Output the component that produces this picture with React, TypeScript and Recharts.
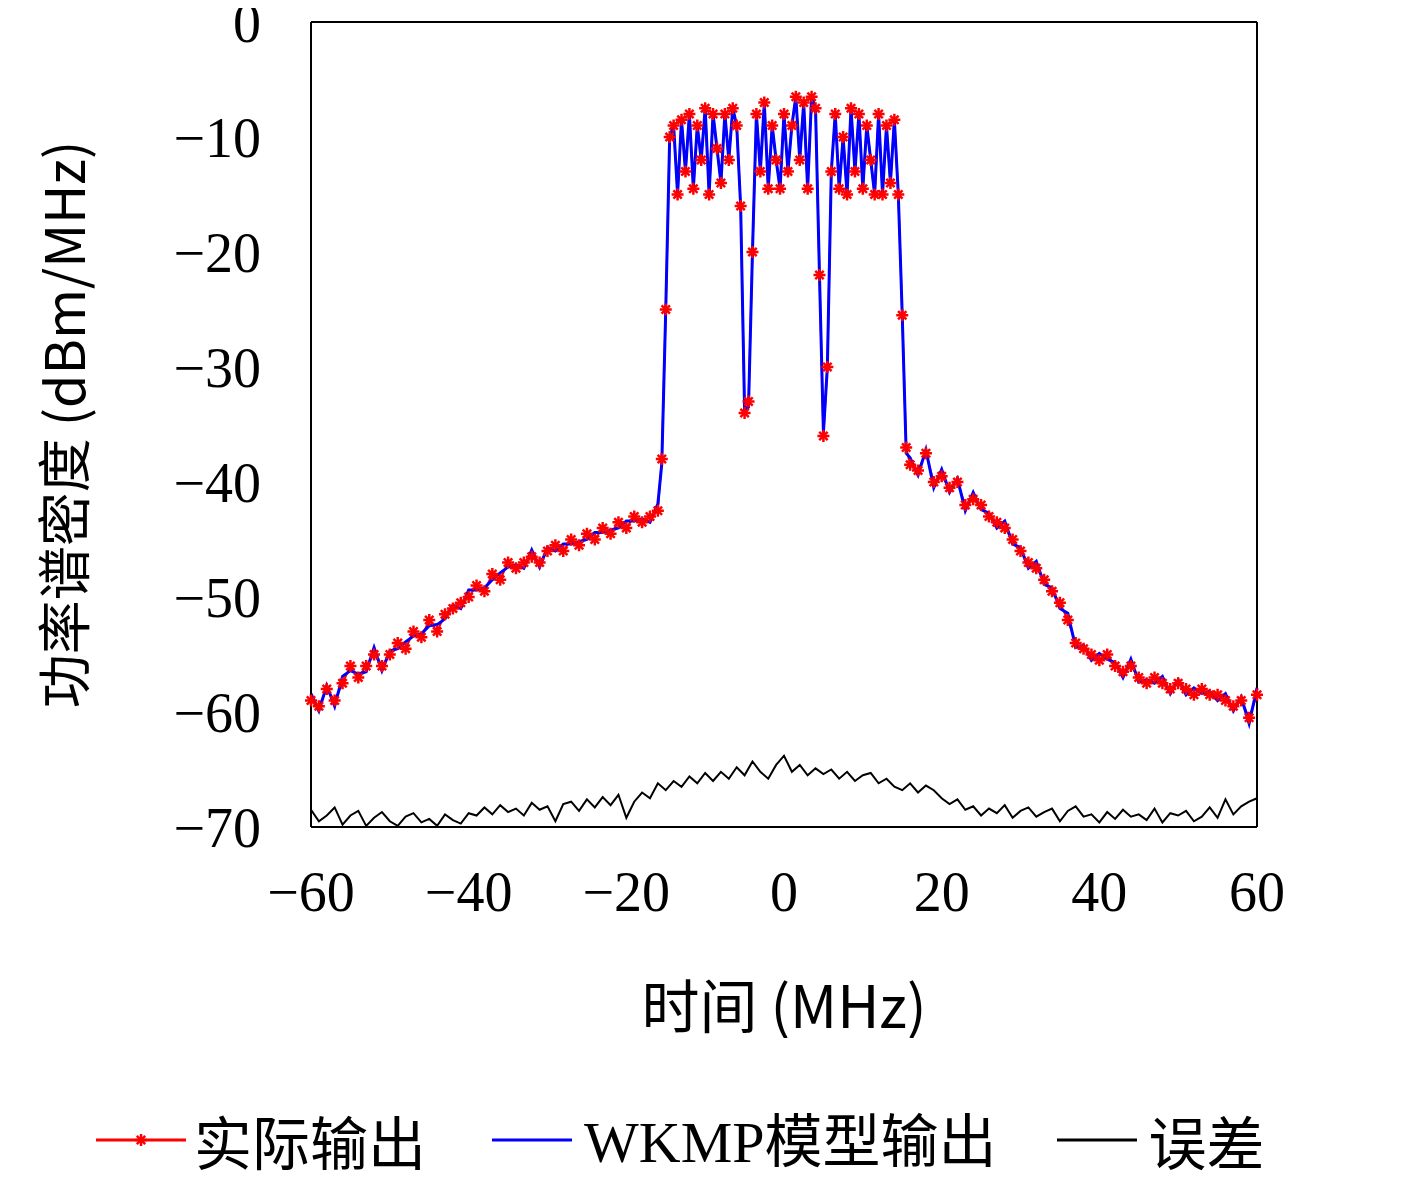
import React from "react";
import { ComposedChart, Line, XAxis, YAxis, Label, ReferenceLine } from "recharts";

const freqs = [
  -60, -59, -58, -57, -56, -55, -54, -53, -52, -51, -50, -49, -48, -47, -46, -45, -44, -43, -42, -41,
  -40, -39, -38, -37, -36, -35, -34, -33, -32, -31, -30, -29, -28, -27, -26, -25, -24, -23, -22, -21,
  -20, -19, -18, -17, -16, -15.5, -15, -14.5,
  -14, -13.5, -13, -12.5, -12, -11.5, -11, -10.5, -10, -9.5, -9, -8.5, -8, -7.5, -7, -6.5, -6, -5.5,
  -5, -4.5, -4, -3.5, -3, -2.5, -2, -1.5, -1, -0.5, 0, 0.5, 1, 1.5, 2, 2.5, 3, 3.5, 4, 4.5,
  5, 5.5, 6, 6.5, 7, 7.5, 8, 8.5, 9, 9.5, 10, 10.5, 11, 11.5, 12, 12.5, 13, 13.5, 14, 14.5,
  15, 15.5, 16, 17, 18, 19, 20, 21, 22, 23, 24, 25, 26, 27, 28, 29, 30, 31, 32, 33, 34, 35,
  36, 37, 38, 39, 40, 41, 42, 43, 44, 45, 46, 47, 48, 49, 50, 51, 52, 53, 54, 55, 56, 57, 58, 59, 60,
];

const actual = [
  -59, -59.5, -58, -59, -57.5, -56, -57, -56, -55, -56, -55, -54, -54.5, -53, -53.5, -52, -53, -51.5, -51, -50.5,
  -50, -49, -49.5, -48, -48.5, -47, -47.5, -47, -46.5, -47, -46, -45.5, -46, -45, -45.5, -44.5, -45, -44, -44.5, -43.5,
  -44, -43, -43.5, -43, -42.5, -38, -25, -10,
  -9, -15, -8.5, -13, -8, -14.5, -9, -12, -7.5, -15, -8, -11, -14, -8, -12, -7.5, -9, -16,
  -34, -33, -20, -8, -13, -7, -14.5, -9, -12, -14.5, -8, -13, -9, -6.5, -12, -7, -14.5, -6.5, -7.5, -22,
  -36, -30, -13, -8, -14.5, -10, -15, -7.5, -13, -8, -14.5, -9, -12, -15, -8, -15, -9, -14, -8.5, -15,
  -25.5, -37, -38.5, -39, -37.5, -40, -39.5, -40.5, -40, -42, -41.5, -42, -43, -43.5, -44, -45, -46, -47, -47.5, -48.5, -49.5, -50.5,
  -52, -54, -54.5, -55, -55.5, -55, -56, -56.5, -56, -57, -57.5, -57, -57.5, -58, -57.5, -58, -58.5, -58, -58.5, -58.5, -59, -59.5, -59, -60.5, -58.5,
];

// model output follows the measured spectrum closely
const modelShift = [0.6, -0.4, 0.3, -0.5];

const errFreqs = Array.from({ length: 121 }, (_, i) => i - 60);
const errors = [
  -68.5, -69.5, -69, -68.3, -69.8, -69, -68.6, -69.9, -69.2, -68.7, -69.5, -69.9, -69.1, -68.8, -69.6, -69.3, -69.9, -68.9, -69.4, -69.7, -68.8,
  -69, -68.3, -68.9, -68.1, -68.7, -68.4, -69, -67.9, -68.5, -68.2, -69.5, -68, -67.8, -68.6, -67.6, -68.3, -67.4, -68.1, -67.2, -69.2,
  -67.8, -67, -67.5, -66.2, -66.8, -66, -66.5, -65.6, -66.2, -65.3, -66, -65.2, -65.8, -64.8, -65.5, -64.3, -65.2, -65.8, -64.6,
  -63.8, -65.2, -64.6, -65.5, -64.9, -65.4, -65, -65.8, -65.2, -66, -65.5, -65.3, -66.2, -65.8, -66.5, -66.8, -66.2, -67, -66.4, -66.8, -67.5,
  -68, -67.6, -68.5, -68.2, -69, -68.4, -68.8, -68.1, -69.2, -68.6, -68.3, -69.1, -68.7, -68.4, -69.5, -68.6, -68.2, -69.1, -68.9, -69.6,
  -68.7, -69.3, -68.5, -69.1, -68.9, -69.4, -68.4, -69.6, -68.8, -69, -68.6, -69.5, -69.1, -68.3, -69.2, -67.6, -68.9, -68.2, -67.8, -67.5,
];

const xTicks = [-60, -40, -20, 0, 20, 40, 60];
const yTicks = [0, -10, -20, -30, -40, -50, -60, -70];

const spectrum = freqs.map((f, i) => ({
  f,
  actual: actual[i],
  model: Math.abs(actual[i]) > 30 ? actual[i] + modelShift[i % 4] : actual[i],
}));
const errorData = errFreqs.map((f, i) => ({ f, err: errors[i] }));

const FONT = "'Liberation Serif', 'DejaVu Serif', serif";
const CJK = "'Noto Sans CJK SC', 'Liberation Serif', serif";
const fmt = (v: number) => (v < 0 ? `\u2212${-v}` : `${v}`);

function Star(props: any) {
  const { cx, cy } = props;
  if (cx == null || cy == null) return null;
  const r = 6;
  return (
    <g stroke="#ff0000" strokeWidth={2.5}>
      <line x1={cx - r} y1={cy} x2={cx + r} y2={cy} />
      <line x1={cx} y1={cy - r} x2={cx} y2={cy + r} />
      <line x1={cx - r * 0.7} y1={cy - r * 0.7} x2={cx + r * 0.7} y2={cy + r * 0.7} />
      <line x1={cx - r * 0.7} y1={cy + r * 0.7} x2={cx + r * 0.7} y2={cy - r * 0.7} />
    </g>
  );
}

export default function App() {
  const tick = { fontSize: 56, fontFamily: FONT, fill: "#000" };
  return (
    <div style={{ width: 1400, background: "#fff", marginTop: -30 }}>
      <ComposedChart width={1400} height={1060} margin={{ top: 44, right: 151, left: 0, bottom: 0 }}>
        <XAxis
          xAxisId="b"
          type="number"
          dataKey="f"
          domain={[-60, 60]}
          ticks={xTicks}
          interval={0}
          tickFormatter={fmt}
          tick={tick}
          tickLine={false}
          tickMargin={38}
          height={211}
          stroke="#000"
          strokeWidth={2}
          allowDuplicatedCategory={false}
        >
          <Label value="时间 (MHz)" position="insideBottom" offset={10} style={{ fontSize: 58, fontFamily: CJK, fill: "#000" }} />
        </XAxis>
        <YAxis
          yAxisId="l"
          type="number"
          domain={[-70, 0]}
          ticks={yTicks}
          interval={0}
          tickFormatter={fmt}
          tick={tick}
          tickLine={false}
          tickMargin={44}
          width={303}
          stroke="#000"
          strokeWidth={2}
          allowDataOverflow
        >
          <Label value="功率谱密度 (dBm/MHz)" angle={-90} position="insideLeft" offset={58} style={{ fontSize: 54, fontFamily: CJK, fill: "#000", textAnchor: "middle" }} />
        </YAxis>
        <ReferenceLine xAxisId="b" yAxisId="l" y={0} stroke="#000" strokeWidth={2} />
        <ReferenceLine xAxisId="b" yAxisId="l" x={60} stroke="#000" strokeWidth={2} />
        <Line xAxisId="b" yAxisId="l" data={spectrum} dataKey="actual" stroke="#ff0000" strokeWidth={2} dot={<Star />} isAnimationActive={false} />
        <Line xAxisId="b" yAxisId="l" data={spectrum} dataKey="model" stroke="#0000ff" strokeWidth={3} dot={false} isAnimationActive={false} />
        <Line xAxisId="b" yAxisId="l" data={errorData} dataKey="err" stroke="#000" strokeWidth={2} dot={false} isAnimationActive={false} />
      </ComposedChart>
      <div style={{ display: "flex", alignItems: "center", fontFamily: CJK, fontSize: 58, lineHeight: 1, marginLeft: 88, marginTop: 70, whiteSpace: "nowrap" }}>
        <svg width={90} height={20}>
          <line x1={0} y1={10} x2={90} y2={10} stroke="#ff0000" strokeWidth={3} />
          <Star cx={45} cy={10} />
        </svg>
        <span style={{ marginLeft: 8 }}>实际输出</span>
        <svg width={80} height={20} style={{ marginLeft: 66 }}>
          <line x1={0} y1={10} x2={80} y2={10} stroke="#0000ff" strokeWidth={3} />
        </svg>
        <span style={{ marginLeft: 12, fontFamily: "'Liberation Serif', 'Noto Sans CJK SC', serif" }}>WKMP<span style={{ fontFamily: CJK }}>模型输出</span></span>
        <svg width={80} height={20} style={{ marginLeft: 60 }}>
          <line x1={0} y1={10} x2={80} y2={10} stroke="#000" strokeWidth={3} />
        </svg>
        <span style={{ marginLeft: 12 }}>误差</span>
      </div>
    </div>
  );
}
